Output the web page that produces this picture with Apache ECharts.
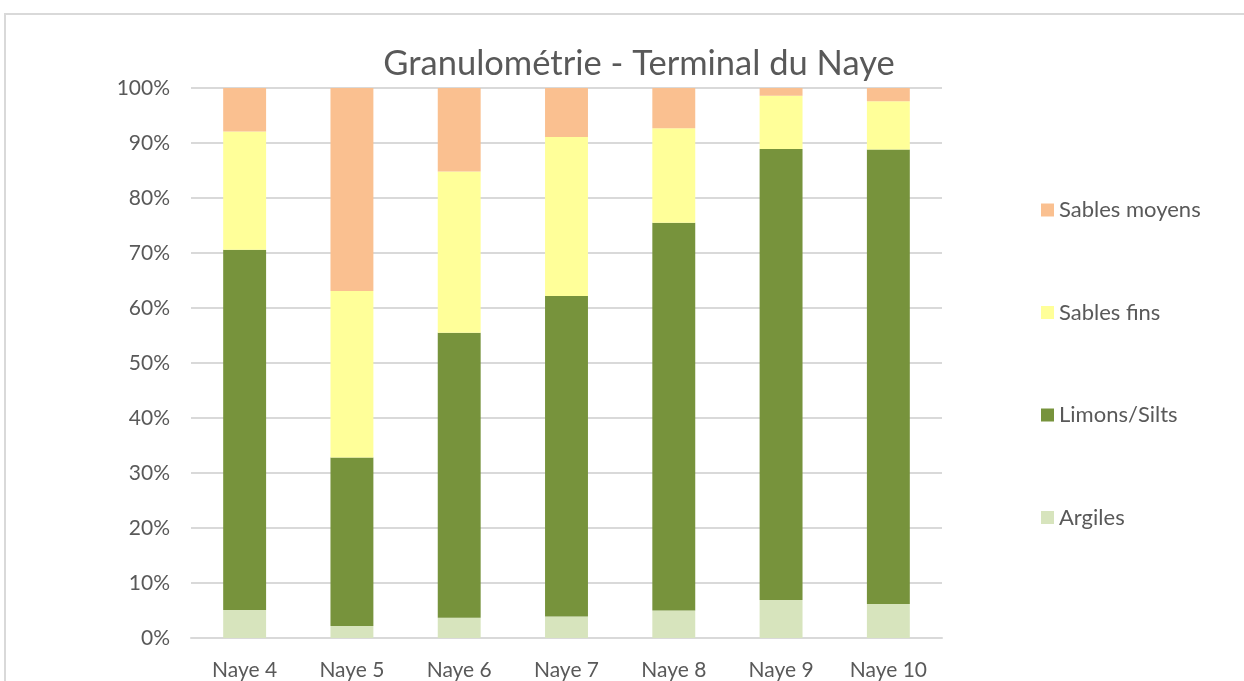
<!DOCTYPE html>
<html>
<head>
<meta charset="utf-8">
<script src="https://cdn.jsdelivr.net/npm/echarts@6/dist/echarts.min.js"></script>
<style>
html,body{margin:0;padding:0;background:#fff;}
#chart{width:1244px;height:681px;}
</style>
</head>
<body>
<div id="chart"></div>
<script>
const categories = ['Naye 4','Naye 5','Naye 6','Naye 7','Naye 8','Naye 9','Naye 10'];
const argiles = [5.1, 2.2, 3.7, 3.9, 5.0, 6.9, 6.2];
const limons = [65.5, 30.6, 51.8, 58.3, 70.5, 82.0, 82.6];
const sablesFins = [21.5, 30.3, 29.3, 28.9, 17.2, 9.7, 8.8];
const sablesMoyens = [7.9, 36.9, 15.2, 8.9, 7.3, 1.4, 2.4];
const yTicks = ['0%','10%','20%','30%','40%','50%','60%','70%','80%','90%','100%'];

const font = 'Lato, "Open Sans", sans-serif';
const chart = echarts.init(document.getElementById('chart'));
function mk(name, data, color){
  return {name, type:'bar', stack:'total', data, barCategoryGap:'60%',
    itemStyle:{color}, emphasis:{disabled:true}};
}
chart.setOption({
  animation:false,
  textStyle:{fontFamily:font},
  graphic:[{type:'rect', shape:{x:5, y:14, width:1300, height:800},
    style:{fill:'none', stroke:'#D9D9D9', lineWidth:2}, silent:true}],
  title:{text:'Granulométrie - Terminal du Naye', left:634, top:41, textAlign:'center',
    textStyle:{fontFamily:font, fontSize:34.5, fontWeight:'normal', color:'#595959'}},
  grid:{left:191, right:1244-942, top:88, bottom:681-638},
  legend:{orient:'vertical', left:1036, top:194, itemWidth:13, itemHeight:13, itemGap:80.5,
    icon:'rect', data:['Sables moyens','Sables fins','Limons/Silts','Argiles'],
    textStyle:{fontFamily:font, fontSize:22, color:'#595959', lineHeight:20}},
  xAxis:{type:'category', data:categories,
    axisLine:{lineStyle:{color:'#D9D9D9', width:2}}, axisTick:{show:false},
    axisLabel:{fontFamily:font, fontSize:21, color:'#595959', margin:22}},
  yAxis:{type:'value', min:0, max:100, interval:10,
    axisLabel:{fontFamily:font, fontSize:21, color:'#595959', margin:21,
      formatter:v=>yTicks[Math.round(v/10)]},
    splitLine:{lineStyle:{color:'#D9D9D9', width:2}}, axisLine:{show:false}, axisTick:{show:false}},
  series:[
    mk('Argiles', argiles, '#D7E4BD'),
    mk('Limons/Silts', limons, '#77933C'),
    mk('Sables fins', sablesFins, '#FFFF99'),
    mk('Sables moyens', sablesMoyens, '#FAC090')
  ]
});
</script>
</body>
</html>
